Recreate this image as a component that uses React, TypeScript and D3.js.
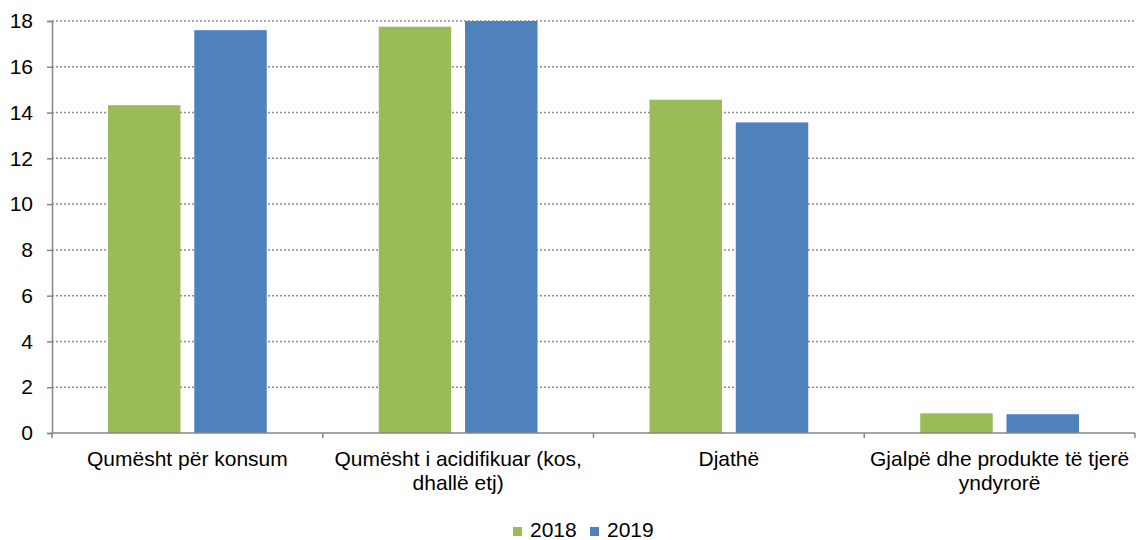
import React, { useRef, useEffect } from "react";
import * as d3 from "d3";

const width = 1136;
const height = 540;
const margin = { left: 52, right: 1, top: 21, bottom: 107 };
const font = "'Liberation Sans', Arial, sans-serif";
const fontSize = 21;

const categories = [
  "Qumësht për konsum",
  "Qumësht i acidifikuar (kos, dhallë etj)",
  "Djathë",
  "Gjalpë dhe produkte të tjerë yndyrorë",
];
const seriesNames = ["2018", "2019"];
const values2018 = [14.32, 17.75, 14.56, 0.86];
const values2019 = [17.6, 18.0, 13.57, 0.82];
const colors = ["#9BBB59", "#4F81BD"];
const yTicks = [0, 2, 4, 6, 8, 10, 12, 14, 16, 18];

const series = [values2018, values2019];

// split words into lines no wider than maxWidth
const wrap = (sel: any, maxWidth: number) => {
  sel.each(function (this: SVGTextElement) {
    const text = d3.select(this);
    const words = text.text().split(/\s+/);
    const x = text.attr("x");
    text.text(null);
    let line: string[] = [];
    let tspan = text.append("tspan").attr("x", x).attr("dy", 0);
    words.forEach((w) => {
      line.push(w);
      tspan.text(line.join(" "));
      if ((tspan.node() as SVGTSpanElement).getComputedTextLength() > maxWidth && line.length > 1) {
        line.pop();
        tspan.text(line.join(" "));
        line = [w];
        tspan = text.append("tspan").attr("x", x).attr("dy", 24).text(w);
      }
    });
  });
};

const App = () => {
  const yAxisRef = useRef<SVGGElement>(null);
  const labelsRef = useRef<SVGGElement>(null);

  const x0 = d3
    .scaleBand<number>()
    .domain(d3.range(categories.length))
    .range([margin.left, width - margin.right]);
  const cw = x0.bandwidth();
  const x1 = d3
    .scaleBand<number>()
    .domain(d3.range(seriesNames.length))
    .range([56, cw - 56])
    .paddingInner(0.16);
  const y = d3
    .scaleLinear()
    .domain([0, 18])
    .range([height - margin.bottom, margin.top]);
  const y0 = y(0);

  useEffect(() => {
    const yAxis = d3.axisLeft(y).tickValues(yTicks).tickSize(5).tickPadding(14);
    const ya = d3.select(yAxisRef.current).call(yAxis as any);
    ya.select(".domain").attr("stroke", "#868686").attr("stroke-width", 1.5);
    ya.selectAll(".tick line").attr("stroke", "#868686").attr("stroke-width", 1.5);
    ya.selectAll(".tick text")
      .attr("font-family", font)
      .attr("font-size", fontSize)
      .attr("fill", "#000");

    const xLabels = d3.select(labelsRef.current);
    xLabels.selectAll("*").remove();
    xLabels
      .selectAll("text")
      .data(categories)
      .enter()
      .append("text")
      .attr("x", (_, i) => (x0(i) as number) + cw / 2)
      .attr("y", 466)
      .attr("text-anchor", "middle")
      .attr("font-family", font)
      .attr("font-size", fontSize)
      .attr("fill", "#000")
      .text((d) => d)
      .call(wrap, cw);
  }, []);

  const boundaries = d3.range(categories.length + 1).map((i) => margin.left + i * cw);

  return (
    <svg
      width={width}
      height={height}
      style={{ position: "absolute", left: 0, top: 0, background: "#fff" }}
    >
      {/* gridlines */}
      <g>
        {yTicks
          .filter((t) => t > 0)
          .map((t) => (
            <line
              key={t}
              x1={margin.left}
              x2={width - margin.right}
              y1={y(t)}
              y2={y(t)}
              stroke="#8c8c8c"
              strokeWidth={1.5}
              strokeDasharray="2,2"
            />
          ))}
      </g>
      {/* bars */}
      <g>
        {series.map((vals, s) =>
          vals.map((v, i) => (
            <rect
              key={`${s}-${i}`}
              x={(x0(i) as number) + (x1(s) as number)}
              y={y(v)}
              width={x1.bandwidth()}
              height={y0 - y(v)}
              fill={colors[s]}
            />
          ))
        )}
      </g>
      {/* x axis */}
      <g>
        <line
          x1={margin.left}
          x2={width - margin.right}
          y1={y0}
          y2={y0}
          stroke="#868686"
          strokeWidth={1.5}
        />
        {boundaries.map((bx, i) => (
          <line key={i} x1={bx} x2={bx} y1={y0} y2={y0 + 5} stroke="#868686" strokeWidth={1.5} />
        ))}
      </g>
      <g ref={yAxisRef} transform={`translate(${margin.left},0)`} />
      <g ref={labelsRef} />
      {/* legend */}
      <g fontFamily={font} fontSize={fontSize} fill="#000">
        {seriesNames.map((n, i) => (
          <g key={n} transform={`translate(${513 + i * 77},0)`}>
            <rect x={0} y={527} width={9} height={9} fill={colors[i]} />
            <text x={17} y={537}>
              {n}
            </text>
          </g>
        ))}
      </g>
    </svg>
  );
};

export default App;
